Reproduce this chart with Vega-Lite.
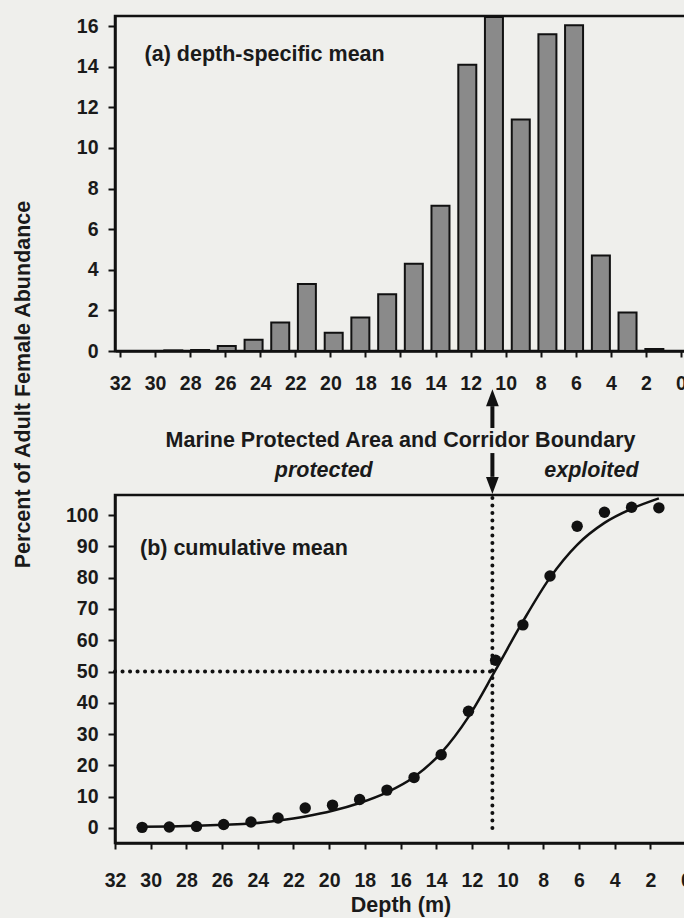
{
  "$schema": "https://vega.github.io/schema/vega-lite/v6.json",
  "background": "#efefec",
  "padding": {"left": 10, "top": 14, "right": 0, "bottom": 0},
  "autosize": {"type": "pad"},
  "config": {
    "font": "Liberation Sans",
    "view": {"stroke": "#111111", "strokeWidth": 2.5},
    "axis": {
      "labelFont": "Liberation Sans", "labelFontSize": 19.5, "labelFontWeight": "bold", "labelColor": "#1a1a1a",
      "domainColor": "#111111", "domainWidth": 2.5, "tickColor": "#111111", "tickWidth": 2, "grid": false,
      "titleFont": "Liberation Sans", "titleFontSize": 21.5, "titleFontWeight": "bold", "titleColor": "#1a1a1a",
      "labelFlush": false, "labelOverlap": false
    }
  },
  "datasets": {
    "bars": [
      {"depth": 30.48, "abundance": 0},
      {"depth": 28.96, "abundance": 0.03},
      {"depth": 27.43, "abundance": 0.05},
      {"depth": 25.91, "abundance": 0.25},
      {"depth": 24.38, "abundance": 0.55},
      {"depth": 22.86, "abundance": 1.4},
      {"depth": 21.34, "abundance": 3.3},
      {"depth": 19.81, "abundance": 0.9},
      {"depth": 18.29, "abundance": 1.65},
      {"depth": 16.76, "abundance": 2.8},
      {"depth": 15.24, "abundance": 4.3},
      {"depth": 13.72, "abundance": 7.15},
      {"depth": 12.19, "abundance": 14.1},
      {"depth": 10.67, "abundance": 16.45},
      {"depth": 9.14, "abundance": 11.4},
      {"depth": 7.62, "abundance": 15.6},
      {"depth": 6.10, "abundance": 16.05},
      {"depth": 4.57, "abundance": 4.7},
      {"depth": 3.05, "abundance": 1.9},
      {"depth": 1.52, "abundance": 0.1}
    ],
    "cumulative": [
      {"depth": 30.48, "pct": 0.2},
      {"depth": 28.96, "pct": 0.3},
      {"depth": 27.43, "pct": 0.5},
      {"depth": 25.91, "pct": 1.1},
      {"depth": 24.38, "pct": 1.9},
      {"depth": 22.86, "pct": 3.2},
      {"depth": 21.34, "pct": 6.4},
      {"depth": 19.81, "pct": 7.3},
      {"depth": 18.29, "pct": 9.1},
      {"depth": 16.76, "pct": 12.1},
      {"depth": 15.24, "pct": 16.1},
      {"depth": 13.72, "pct": 23.4},
      {"depth": 12.19, "pct": 37.3},
      {"depth": 10.67, "pct": 53.6},
      {"depth": 9.14, "pct": 64.9},
      {"depth": 7.62, "pct": 80.5},
      {"depth": 6.10, "pct": 96.4},
      {"depth": 4.57, "pct": 100.9},
      {"depth": 3.05, "pct": 102.5},
      {"depth": 1.52, "pct": 102.3}
    ],
    "fit": [
      {"depth": 30.48, "pct": 0.4},
      {"depth": 28.96, "pct": 0.5},
      {"depth": 27.43, "pct": 0.7},
      {"depth": 25.91, "pct": 1.0},
      {"depth": 24.38, "pct": 1.4},
      {"depth": 22.86, "pct": 2.4},
      {"depth": 21.34, "pct": 3.7},
      {"depth": 19.81, "pct": 5.5},
      {"depth": 18.29, "pct": 8.0},
      {"depth": 16.76, "pct": 11.4},
      {"depth": 15.24, "pct": 16.3},
      {"depth": 13.72, "pct": 24.0},
      {"depth": 12.19, "pct": 35.5},
      {"depth": 10.67, "pct": 50.5},
      {"depth": 9.14, "pct": 66.0},
      {"depth": 7.62, "pct": 80.0},
      {"depth": 6.10, "pct": 90.5},
      {"depth": 4.57, "pct": 97.5},
      {"depth": 3.05, "pct": 102.0},
      {"depth": 1.52, "pct": 105.3}
    ],
    "guides": [
      {"d1": 32, "d2": 10.85, "p1": 50, "p2": 50},
      {"d1": 10.85, "d2": 10.85, "p1": 0, "p2": 106.4}
    ],
    "shafts": [
      {"d1": 10.85, "d2": 10.85, "p1": 127.8, "p2": 134.8},
      {"d1": 10.85, "d2": 10.85, "p1": 112.2, "p2": 119.8}
    ],
    "headUp": [{"depth": 10.85, "pct": 137.5}],
    "headDown": [{"depth": 10.85, "pct": 109.4}],
    "boundary": [
      {"depth": 16.0, "pct": 123.7, "label": "Marine Protected Area and Corridor Boundary"}
    ],
    "sides": [
      {"depth": 20.3, "pct": 114.1, "label": "protected"},
      {"depth": 5.3, "pct": 114.1, "label": "exploited"}
    ]
  },
  "bounds": "flush",
  "spacing": 144,
  "resolve": {"scale": {"x": "independent", "y": "independent"}},
  "vconcat": [
    {
      "width": 571,
      "height": 335,
      "encoding": {
        "x": {
          "field": "depth", "type": "quantitative",
          "scale": {"domain": [0, 32], "reverse": true, "nice": false, "zero": false},
          "axis": {"values": [32, 30, 28, 26, 24, 22, 20, 18, 16, 14, 12, 10, 8, 6, 4, 2, 0], "tickSize": 6, "labelPadding": 17, "labelOverlap": false, "labelFlush": false, "title": null}
        },
        "y": {
          "field": "abundance", "type": "quantitative",
          "scale": {"domain": [0, 16.5], "nice": false},
          "axis": {
            "values": [0, 2, 4, 6, 8, 10, 12, 14, 16], "tickSize": 7, "labelPadding": 10, "labelOverlap": false,
            "title": "Percent of Adult Female Abundance",
            "titleX": -86, "titleY": 368, "titleAngle": -90, "titleAlign": "center", "titleBaseline": "alphabetic"
          }
        }
      },
      "layer": [
        {
          "data": {"name": "bars"},
          "mark": {"type": "bar", "width": 18, "fill": "#8a8a8a", "stroke": "#111111", "strokeWidth": 2}
        },
        {
          "data": {"values": [{"depth": 30.6, "abundance": 14.6, "label": "(a) depth-specific mean"}]},
          "mark": {"type": "text", "align": "left", "baseline": "middle", "fontSize": 21.5, "fontWeight": "bold", "color": "#1a1a1a"},
          "encoding": {"text": {"field": "label"}}
        }
      ]
    },
    {
      "width": 571,
      "height": 348,
      "encoding": {
        "x": {
          "field": "depth", "type": "quantitative",
          "scale": {"domain": [0, 32], "reverse": true, "nice": false, "zero": false},
          "axis": {"values": [32, 30, 28, 26, 24, 22, 20, 18, 16, 14, 12, 10, 8, 6, 4, 2, 0], "tickSize": 6, "labelPadding": 22, "labelOverlap": false, "labelFlush": false, "title": "Depth (m)", "titlePadding": 5}
        },
        "y": {
          "field": "pct", "type": "quantitative",
          "scale": {"domain": [-4.8, 106.4], "nice": false, "zero": false},
          "axis": {"values": [0, 10, 20, 30, 40, 50, 60, 70, 80, 90, 100], "tickSize": 7, "labelPadding": 10, "labelOverlap": false, "title": null}
        }
      },
      "layer": [
        {
          "data": {"name": "guides"},
          "mark": {"type": "rule", "color": "#111111", "strokeWidth": 4, "strokeDash": [0.1, 7.4], "strokeCap": "round", "clip": false},
          "encoding": {
            "x": {"field": "d1", "type": "quantitative"},
            "x2": {"field": "d2"},
            "y": {"field": "p1", "type": "quantitative"},
            "y2": {"field": "p2"}
          }
        },
        {
          "data": {"name": "fit"},
          "mark": {"type": "line", "color": "#111111", "strokeWidth": 2.5, "interpolate": "monotone", "clip": false},
          "encoding": {}
        },
        {
          "data": {"name": "cumulative"},
          "mark": {"type": "circle", "color": "#111111", "opacity": 1, "size": 130},
          "encoding": {}
        },
        {
          "data": {"values": [{"depth": 30.6, "pct": 89, "label": "(b) cumulative mean"}]},
          "mark": {"type": "text", "align": "left", "baseline": "middle", "fontSize": 21.5, "fontWeight": "bold", "color": "#1a1a1a"},
          "encoding": {"text": {"field": "label"}}
        },
        {
          "data": {"name": "boundary"},
          "mark": {"type": "text", "align": "center", "baseline": "middle", "fontSize": 21.5, "fontWeight": "bold", "color": "#1a1a1a", "clip": false},
          "encoding": {"text": {"field": "label"}}
        },
        {
          "data": {"name": "sides"},
          "mark": {"type": "text", "align": "center", "baseline": "middle", "fontSize": 21.5, "fontWeight": "bold", "fontStyle": "italic", "color": "#1a1a1a", "clip": false},
          "encoding": {"text": {"field": "label"}}
        },
        {
          "data": {"name": "shafts"},
          "mark": {"type": "rule", "color": "#111111", "strokeWidth": 4, "clip": false},
          "encoding": {
            "x": {"field": "d1", "type": "quantitative"},
            "x2": {"field": "d2"},
            "y": {"field": "p1", "type": "quantitative"},
            "y2": {"field": "p2"}
          }
        },
        {
          "data": {"name": "headUp"},
          "mark": {"type": "point", "shape": "M0,-1L0.75,1L-0.75,1Z", "filled": true, "size": 289, "color": "#111111", "opacity": 1, "clip": false},
          "encoding": {}
        },
        {
          "data": {"name": "headDown"},
          "mark": {"type": "point", "shape": "M0,1L0.75,-1L-0.75,-1Z", "filled": true, "size": 289, "color": "#111111", "opacity": 1, "clip": false},
          "encoding": {}
        }
      ]
    }
  ]
}
